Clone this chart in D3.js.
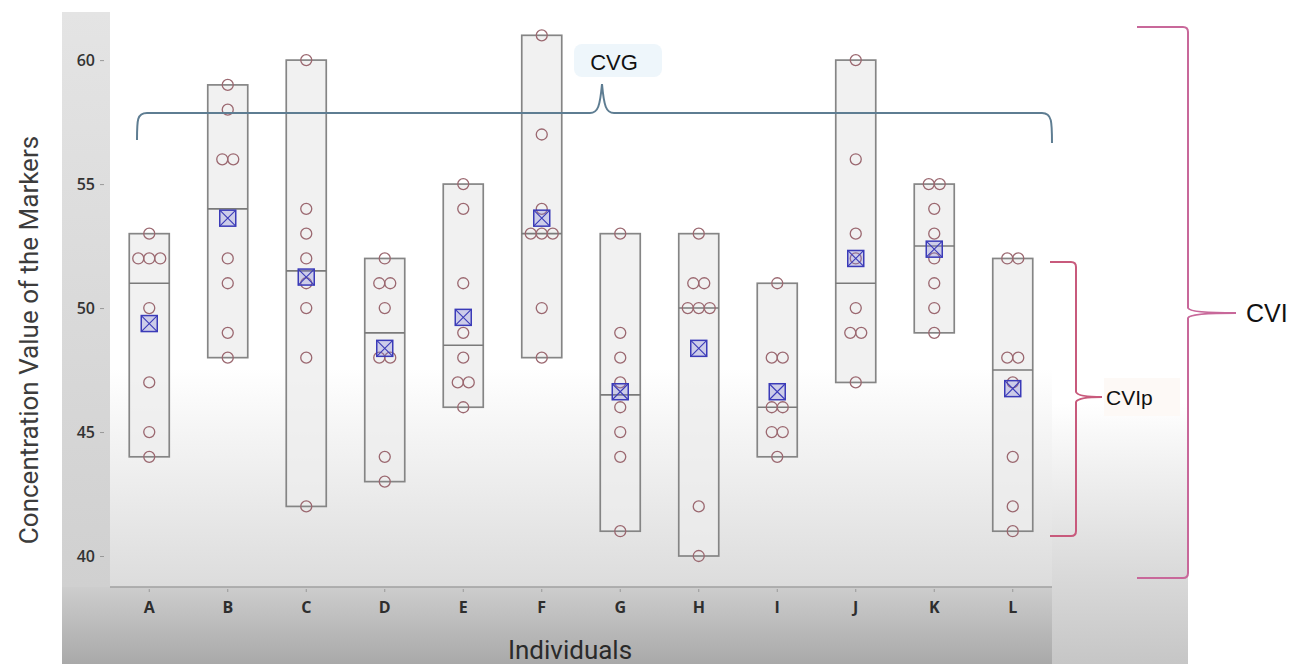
<!DOCTYPE html>
<html>
<head>
<meta charset="utf-8">
<script src="https://cdn.jsdelivr.net/npm/d3@7"></script>
<style>
  body { margin: 0; background: #fff; }
  svg { display: block; }
  .tick text { font-family: "Open Sans", sans-serif; font-size: 16px; font-weight: 600; }
</style>
</head>
<body>
<svg width="1308" height="664"></svg>
<script>
// values, one row per individual
var individuals = ["A", "B", "C", "D", "E", "F", "G", "H", "I", "J", "K", "L"];
var concentrations = [
  [53, 52, 52, 52, 50, 47, 45, 44],
  [59, 58, 56, 56, 52, 51, 49, 48],
  [60, 54, 53, 52, 51, 50, 48, 42],
  [52, 51, 51, 50, 48, 48, 44, 43],
  [55, 54, 51, 49, 48, 47, 47, 46],
  [61, 57, 54, 53, 53, 53, 50, 48],
  [53, 49, 48, 47, 46, 45, 44, 41],
  [53, 51, 51, 50, 50, 50, 42, 40],
  [51, 48, 48, 46, 46, 45, 45, 44],
  [60, 56, 53, 52, 50, 49, 49, 47],
  [55, 55, 54, 53, 52, 51, 50, 49],
  [52, 52, 48, 48, 47, 44, 42, 41]
];
var yTicks = [40, 45, 50, 55, 60];

var svg = d3.select("svg"),
  plot = { left: 110, right: 1052, top: 12, bottom: 587 };

var x = d3.scaleBand()
  .domain(individuals)
  .range([plot.left, plot.right]);

var y = d3.scaleLinear()
  .domain([38.75, 61.94])
  .range([plot.bottom, plot.top]);

var defs = svg.append("defs");
function grad(id, stops) {
  var g = defs.append("linearGradient").attr("id", id)
    .attr("x1", 0).attr("y1", 0).attr("x2", 0).attr("y2", 1);
  stops.forEach(function (s) {
    g.append("stop").attr("offset", s[0]).attr("stop-color", s[1]);
  });
}
grad("plotBg", [[0, "#ffffff"], [0.62, "#ffffff"], [1, "#dcdcdc"]]);
grad("stripBg", [[0, "#e4e4e4"], [1, "#d0d0d0"]]);
grad("xBand", [[0, "#cdcdcd"], [1, "#a9a9a9"]]);
grad("sideBg", [[0, "#ffffff"], [0.6, "#ffffff"], [1, "#c6c6c6"]]);

// background panels
svg.append("rect").attr("x", plot.right).attr("y", plot.top)
  .attr("width", 1188 - plot.right).attr("height", 664 - plot.top).attr("fill", "url(#sideBg)");
svg.append("rect").attr("x", 62).attr("y", plot.top)
  .attr("width", plot.left - 62).attr("height", plot.bottom - plot.top).attr("fill", "url(#stripBg)");
svg.append("rect").attr("x", plot.left).attr("y", plot.top)
  .attr("width", plot.right - plot.left).attr("height", plot.bottom - plot.top).attr("fill", "url(#plotBg)");
svg.append("rect").attr("x", 62).attr("y", plot.bottom)
  .attr("width", plot.right - 62).attr("height", 664 - plot.bottom).attr("fill", "url(#xBand)");

svg.append("line")
  .attr("x1", plot.left).attr("x2", plot.right)
  .attr("y1", plot.bottom).attr("y2", plot.bottom)
  .attr("stroke", "#a0a0a0").attr("stroke-width", 1.5);

// axes
var yAxis = svg.append("g")
  .attr("transform", "translate(" + (plot.left - 6) + ",0)")
  .call(d3.axisLeft(y).tickValues(yTicks).tickSize(4).tickPadding(5));
yAxis.select(".domain").remove();
yAxis.selectAll("line").attr("stroke", "#999");
yAxis.selectAll("text").attr("fill", "#333");

var xAxis = svg.append("g")
  .attr("transform", "translate(0," + (plot.bottom + 2) + ")")
  .call(d3.axisBottom(x).tickSize(3).tickPadding(10));
xAxis.select(".domain").remove();
xAxis.selectAll("line").attr("stroke", "#999");
xAxis.selectAll("text").attr("fill", "#2e2e2e").style("font-weight", 700);

// boxes
var halfW = 20;
var groups = svg.append("g").selectAll("g")
  .data(individuals.map(function (k, i) { return { key: k, values: concentrations[i] }; }))
  .enter().append("g")
  .attr("transform", function (d) { return "translate(" + (x(d.key) + x.bandwidth() / 2) + ",0)"; });

groups.append("rect")
  .attr("x", -halfW).attr("width", 2 * halfW)
  .attr("y", function (d) { return y(d3.max(d.values)); })
  .attr("height", function (d) { return y(d3.min(d.values)) - y(d3.max(d.values)); })
  .attr("fill", "#ececec").attr("fill-opacity", 0.75)
  .attr("stroke", "#858585").attr("stroke-width", 1.7);

groups.append("line")
  .attr("x1", -halfW).attr("x2", halfW)
  .attr("y1", function (d) { return y(d3.median(d.values)); })
  .attr("y2", function (d) { return y(d3.median(d.values)); })
  .attr("stroke", "#7a7a7a").attr("stroke-width", 1.6);

// points, ties spread side by side
groups.each(function (d) {
  var counts = d3.rollup(d.values, function (v) { return v.length; }, function (v) { return v; });
  var seen = new Map();
  var pts = d.values.map(function (v) {
    var n = counts.get(v), k = seen.get(v) || 0;
    seen.set(v, k + 1);
    return { v: v, dx: (k - (n - 1) / 2) * 11 };
  });
  d3.select(this).selectAll("circle.pt")
    .data(pts)
    .enter().append("circle")
    .attr("class", "pt")
    .attr("cx", function (p) { return p.dx; })
    .attr("cy", function (p) { return y(p.v); })
    .attr("r", 5.5)
    .attr("fill", "none")
    .attr("stroke", "#9b6870")
    .attr("stroke-width", 1.3);
});

// mean markers
var m = 8;
var mean = groups.append("g")
  .attr("transform", function (d) { return "translate(0," + y(d3.mean(d.values)) + ")"; })
  .attr("stroke", "#3b3bb8").attr("stroke-width", 1.5);
mean.append("rect")
  .attr("x", -m).attr("y", -m).attr("width", 2 * m).attr("height", 2 * m)
  .attr("fill", "#7a7ad8").attr("fill-opacity", 0.3);
mean.append("path")
  .attr("d", "M" + (-m) + "," + (-m) + "L" + m + "," + m + "M" + m + "," + (-m) + "L" + (-m) + "," + m)
  .attr("stroke-width", 1.1);

// titles
svg.append("text")
  .attr("transform", "translate(38,340)rotate(-90)")
  .attr("text-anchor", "middle")
  .attr("font-family", "Roboto, sans-serif").attr("font-size", 26)
  .attr("fill", "#3c3c3c")
  .text("Concentration Value of the Markers");

svg.append("text")
  .attr("x", 570).attr("y", 659)
  .attr("text-anchor", "middle")
  .attr("font-family", "Roboto, sans-serif").attr("font-size", 26)
  .attr("fill", "#2a2a2a")
  .text("Individuals");

// CVG brace
svg.append("path")
  .attr("d", "M137,140 C137,120 137,113 147,113 L590,113 C598,113 600,106 602,84 C604,106 606,113 614,113 L1042,113 C1052,113 1052,122 1052,143")
  .attr("fill", "none").attr("stroke", "#5e7d92").attr("stroke-width", 2);
svg.append("rect")
  .attr("x", 574).attr("y", 44).attr("width", 88).attr("height", 33).attr("rx", 8)
  .attr("fill", "#eef6fb");
svg.append("text")
  .attr("x", 614).attr("y", 70).attr("text-anchor", "middle")
  .attr("font-family", "Liberation Sans, Arial, sans-serif").attr("font-size", 22)
  .attr("fill", "#111").text("CVG");

// right braces
function rightBrace(x0, xv, yTop, yBot, yMid, xTip) {
  return "M" + x0 + "," + yTop + "L" + (xv - 5) + "," + yTop +
    "Q" + xv + "," + yTop + " " + xv + "," + (yTop + 5) +
    "L" + xv + "," + (yMid - 5) +
    "Q" + (xv + 2) + "," + yMid + " " + xTip + "," + yMid +
    "Q" + (xv + 2) + "," + yMid + " " + xv + "," + (yMid + 5) +
    "L" + xv + "," + (yBot - 5) +
    "Q" + xv + "," + yBot + " " + (xv - 5) + "," + yBot +
    "L" + x0 + "," + yBot;
}
svg.append("path")
  .attr("d", rightBrace(1137, 1188, 27, 578, 313, 1236))
  .attr("fill", "none").attr("stroke", "#c8689a").attr("stroke-width", 2);
svg.append("text")
  .attr("x", 1246).attr("y", 322)
  .attr("font-family", "Liberation Sans, Arial, sans-serif").attr("font-size", 25)
  .attr("fill", "#111").text("CVI");

svg.append("path")
  .attr("d", rightBrace(1050, 1076, 262, 536, 397, 1102))
  .attr("fill", "none").attr("stroke", "#c85a7c").attr("stroke-width", 2);
svg.append("rect")
  .attr("x", 1104).attr("y", 378).attr("width", 76).attr("height", 38)
  .attr("fill", "#fdf9f6");
svg.append("text")
  .attr("x", 1106).attr("y", 405)
  .attr("font-family", "Liberation Sans, Arial, sans-serif").attr("font-size", 21)
  .attr("fill", "#111").text("CVIp");
</script>
</body>
</html>
